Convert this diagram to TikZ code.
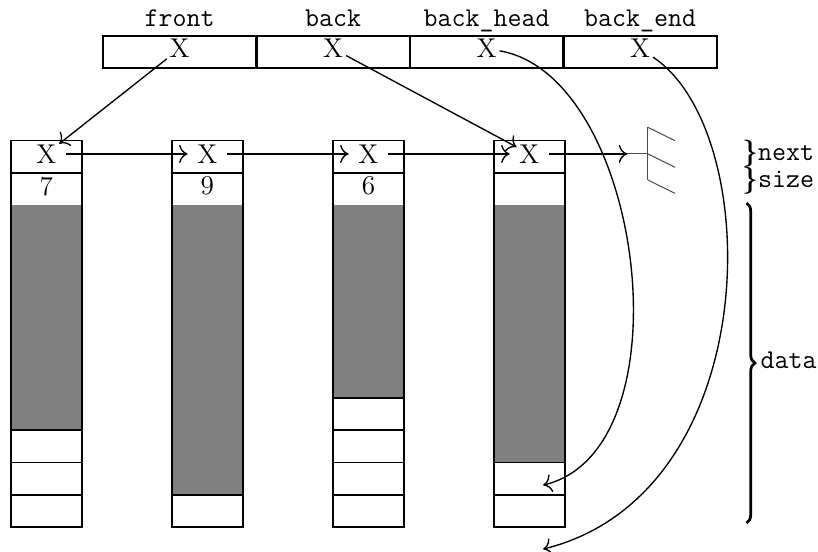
\documentclass[tikz,border=0pt]{standalone}
\usepackage{tikz}
\usetikzlibrary{arrows.meta,positioning,decorations.pathreplacing}

\begin{document}
\begin{tikzpicture}[font=\fontsize{12}{14}\selectfont, >={To[scale=1.3]}, line width=.6pt]
    \useasboundingbox (0,0) rectangle (12.70,-8.556);
    \tikzset{
      slot/.style={draw, line width=1pt, minimum width=2.383cm, minimum height=.5cm, inner sep=0pt},
      ptr/.style={inner sep=1pt},
      tag/.style={font=\fontsize{12}{14}\selectfont\ttfamily, inner sep=0pt, anchor=base},
      link/.style={->, shorten <=3pt, shorten >=3pt},
      side/.style={anchor=base west, inner sep=0pt, font=\fontsize{12}{14}\selectfont\mathversion{bold}},
      wall/.style={line width=.8pt}
    }
    % header
    \foreach \i/\n/\t in {0/front/front,1/back/back,2/bhead/back\_head,3/bend/back\_end} {
      \node[slot] (h\n) at (2.79+2.383*\i,-.81) {};
      \node[ptr] (\n) at (2.79+2.383*\i,-.755) {X};
      \node[tag] (l\n) at (2.79+2.383*\i,-.404) {\t};
    }
    % blocks
    \foreach \i/\s/\g in {0/7/7,1/9/9,2/6/6,3//8} {
      \begin{scope}[xshift=2.5*\i cm]
        \fill[gray] (.17,-3.18) rectangle ++(1.1,-.5*\g);
        \draw[wall] (.17,-2.18) rectangle (1.27,-8.18);
        \draw[wall] (.17,-2.68) -- ++(1.1,0);
        \foreach \r in {\g,...,9}
          \draw[wall] (.17,-3.18-.5*\r) -- ++(1.1,0);
        \node[ptr] (n\i) at (.72,-2.39) {X};
        \node[inner sep=0pt] (s\i) at (.72,-2.89) {\s};
      \end{scope}
    }
    \foreach \a/\b in {0/1,1/2,2/3}
      \draw[link] (n\a) -- (n\b);
    % null
    \coordinate (nil) at (9.74,-2.39);
    \coordinate (gnd) at (10.06,-2.39);
    \draw[->, shorten <=3pt] (n3) -- (nil);
    \draw[black!70, line width=.45pt] (nil) -- (gnd) (10.06,-1.977) -- (10.06,-2.795);
    \foreach \y in {-1.977,-2.39,-2.795}
      \draw[black!70, line width=.45pt] (10.06,\y) -- ++(.42,-.207);
    % pointers
    \coordinate (bhtip) at (8.432,-7.531);
    \coordinate (betip) at (8.432,-8.525);
    \draw[->] (front) -- (n0);
    \draw[->] (back) -- (n3);
    \draw[->] (bhead) .. controls (10.0,-1.172) and (10.714,-6.988) .. (bhtip);
    \draw[->] (bend) .. controls (11.894,-2.05) and (11.894,-7.671) .. (betip);
    % braces
    \node[side] (lnext) at (11.517,-2.497) {$\}$\texttt{next}};
    \node[side] (lsize) at (11.517,-2.908) {$\}$\texttt{size}};
    \draw[line width=1.2pt, decorate, decoration={brace, amplitude=.13cm}] (11.59,-3.152) -- (11.59,-8.121);
    \node[side] (ldata) at (11.80,-5.72) {\texttt{data}};
  \end{tikzpicture}
\end{document}
